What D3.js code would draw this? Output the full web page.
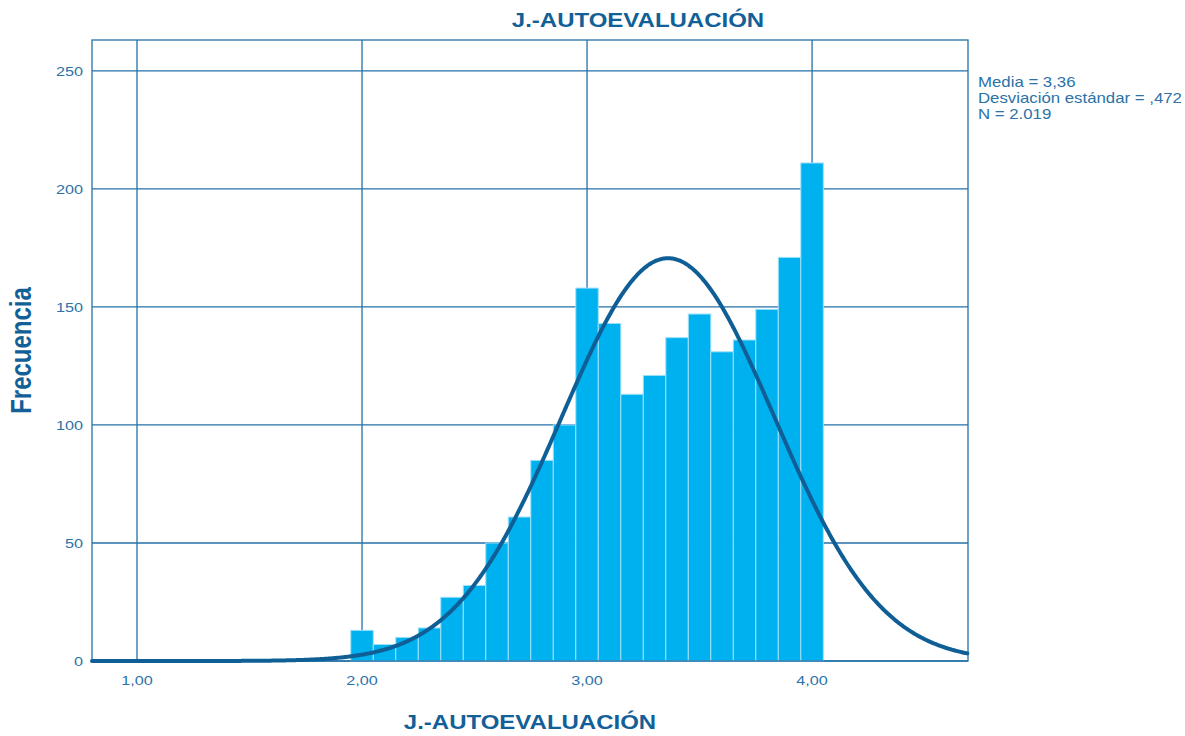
<!DOCTYPE html>
<html><head><meta charset="utf-8">
<script src="https://cdn.jsdelivr.net/npm/d3@7"></script>
<style>body{margin:0;background:#fff}svg{display:block}</style>
</head><body>
<svg id="c" width="1185" height="736"></svg>
<script>
const binCenters = [2.0,2.1,2.2,2.3,2.4,2.5,2.6,2.7,2.8,2.9,3.0,3.1,3.2,3.3,3.4,3.5,3.6,3.7,3.8,3.9,4.0];
const counts     = [13,7,10,14,27,32,50,61,85,100,158,143,113,121,137,147,131,136,149,171,211];
const binWidth = 0.1;
const xTicks = [1,2,3,4];
const xTickLabels = ["1,00","2,00","3,00","4,00"];
const yTicks = [0,50,100,150,200,250];
const stats = {mean:3.36, sd:0.472, n:2019};
const legendLines = ["Media = 3,36","Desviación estándar = ,472","N = 2.019"];
const title = "J.-AUTOEVALUACIÓN";
const xTitle = "J.-AUTOEVALUACIÓN";
const yTitle = "Frecuencia";

const L=92,R=968,T=40,B=661, SX=1.2;
const lineCol="#2471a8", textCol="#2a72a8", titleCol="#135f97";
const svg=d3.select("#c");
const x=d3.scaleLinear().domain([0.8,4.693]).range([L,R]);
const y=d3.scaleLinear().domain([0,263.1]).range([B,T]);
const font="'Liberation Sans', Arial, sans-serif";

function txt(g,s,px,py,size,opts={}){
  return g.append("text").attr("transform",`translate(${px},${py}) scale(${opts.sx||SX},1)`)
    .attr("font-family",font).attr("font-size",size).attr("font-weight",opts.bold?"bold":"normal")
    .attr("fill",opts.fill||textCol).attr("text-anchor",opts.anchor||"start").text(s);
}

// grid
const g=svg.append("g");
g.selectAll(".hg").data(yTicks).join("line").attr("x1",L).attr("x2",R)
  .attr("y1",d=>y(d)).attr("y2",d=>y(d)).attr("stroke",lineCol).attr("stroke-width",1.3);
g.selectAll(".vg").data(xTicks).join("line").attr("y1",T).attr("y2",B)
  .attr("x1",d=>x(d)).attr("x2",d=>x(d)).attr("stroke",lineCol).attr("stroke-width",1.3);

// bars
svg.append("g").selectAll("rect").data(binCenters).join("rect")
  .attr("x",d=>x(d-binWidth/2)).attr("width",d=>x(d+binWidth/2)-x(d-binWidth/2))
  .attr("y",(d,i)=>y(counts[i])).attr("height",(d,i)=>B-y(counts[i]))
  .attr("fill","#00b1f0").attr("stroke","#9fe0f8").attr("stroke-width",1);

// frame
svg.append("rect").attr("x",L).attr("y",T).attr("width",R-L).attr("height",B-T)
  .attr("fill","none").attr("stroke",lineCol).attr("stroke-width",1.3);

// normal curve
const pts=d3.range(0.8,4.6935,0.005).map(v=>[v, stats.n*binWidth/(stats.sd*Math.sqrt(2*Math.PI))*Math.exp(-0.5*Math.pow((v-stats.mean)/stats.sd,2))]);
svg.append("path").datum(pts).attr("d",d3.line().x(d=>x(d[0])).y(d=>y(d[1])).curve(d3.curveBasis))
  .attr("fill","none").attr("stroke","#0f5f96").attr("stroke-width",4).attr("stroke-linecap","round");

// axis labels
const a=svg.append("g");
yTicks.forEach(t=>txt(a,String(t),83,y(t)+5,13.5,{anchor:"end"}));
xTicks.forEach((t,i)=>txt(a,xTickLabels[i],x(t),685,13.5,{anchor:"middle"}));
txt(a,title,638,27,20,{bold:true,anchor:"middle",fill:titleCol});
txt(a,xTitle,530,729,20,{bold:true,anchor:"middle",fill:titleCol});
a.append("text").attr("transform",`translate(31,${(T+B)/2}) rotate(-90) scale(1,${SX})`)
  .attr("font-family",font).attr("font-size",24).attr("font-weight","bold").attr("fill",titleCol)
  .attr("text-anchor","middle").text(yTitle);
legendLines.forEach((s,i)=>txt(a,s,978,87+i*16,14));
</script>
</body></html>
